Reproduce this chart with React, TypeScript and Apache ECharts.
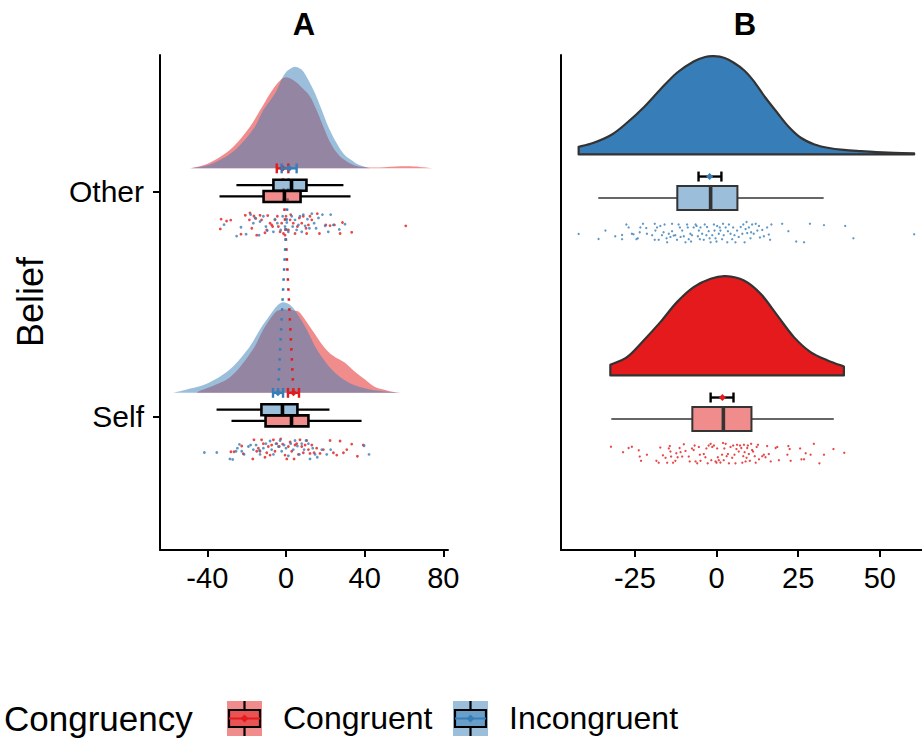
import React, { useEffect, useRef } from "react";
import * as echarts from "echarts";

const RED = "#E41A1C";
const BLUE = "#377EB8";
const RED_A = "rgba(228,26,28,0.5)";
const BLUE_A = "rgba(55,126,184,0.5)";
const FONT = "'Liberation Sans', Arial, Helvetica, sans-serif";

// Belief levels on the y axis (value 1 = Self, value 2 = Other)
const beliefLevels = ["Self", "Other"];
const congruencyLevels = ["Congruent", "Incongruent"];
const xTicksA = [-40, 0, 40, 80];
const xTicksB = [-25, 0, 25, 50];

// ---- densities: [x, relative density] ----
const densA_Other_Congruent = [[-48.8,0],[-42,0.03],[-36.1,0.083],[-30,0.16],[-25.1,0.25],[-18.3,0.417],[-13.2,0.58],[-8.1,0.75],[-4,0.86],[-0.5,0.91],[4,0.88],[8,0.81],[12.2,0.72],[15.6,0.58],[19,0.417],[22.7,0.25],[26.5,0.14],[30,0.08],[34,0.035],[38,0.015],[44,0.008],[50,0.012],[56,0.018],[62,0.02],[68,0.014],[75.7,0]];
const densA_Other_Incongruent = [[-47.9,0],[-40,0.03],[-33.6,0.083],[-28,0.15],[-22.5,0.25],[-15.8,0.417],[-11.5,0.583],[-5.6,0.75],[-2,0.9],[0.3,0.97],[2.5,1.0],[4.6,1.017],[7,1.0],[8.8,0.97],[11.5,0.88],[14.8,0.75],[18.2,0.583],[21.5,0.417],[25.8,0.25],[29.5,0.14],[33.4,0.08],[37,0.035],[42.7,0]];
const densA_Self_Congruent = [[-45.4,0],[-43.7,0.02],[-37,0.07],[-30.1,0.133],[-25.5,0.21],[-21.7,0.3],[-15.8,0.467],[-11.5,0.633],[-5.6,0.8],[-2,0.83],[1.5,0.833],[4.5,0.82],[7.1,0.8],[13.1,0.633],[19,0.467],[24,0.37],[30,0.3],[35,0.21],[40.2,0.133],[45,0.06],[49.5,0.033],[54,0.01],[58,0]];
const densA_Self_Incongruent = [[-57.3,0],[-50.5,0.033],[-43,0.07],[-36.1,0.133],[-30,0.21],[-25.1,0.3],[-18.3,0.467],[-13.2,0.633],[-7.3,0.8],[-4,0.88],[-1.4,0.907],[2,0.88],[5.4,0.8],[10.5,0.633],[14.7,0.467],[18.5,0.35],[22.4,0.25],[28,0.15],[34.2,0.08],[42,0.035],[49.5,0.015],[58,0]];
const densB_Incongruent = [[-42.2,0.077],[-37.6,0.117],[-32,0.2],[-27.4,0.317],[-22,0.48],[-17.2,0.65],[-12.1,0.817],[-7,0.93],[-3.5,0.975],[-0.8,0.983],[2.5,0.965],[5.3,0.917],[8.5,0.84],[11.4,0.733],[15,0.567],[18.6,0.417],[22,0.28],[25.8,0.167],[30,0.1],[34,0.067],[39,0.045],[44.2,0.033],[49,0.024],[54.4,0.017],[60.5,0.01]];
const densB_Congruent = [[-32.5,0.107],[-27.4,0.183],[-22.3,0.35],[-17.2,0.533],[-12.1,0.733],[-7,0.883],[-1.8,0.967],[2.8,0.993],[8.4,0.95],[13.5,0.817],[18.6,0.6],[23.7,0.383],[28.8,0.233],[34,0.15],[39,0.09]];

// ---- box stats: [lower whisker, q1, median, q3, upper whisker] ----
const boxA_Other_Congruent = [-33.8, -11.4, -0.8, 7.4, 32.8];
const boxA_Other_Incongruent = [-25.2, -6.4, 2.8, 10.4, 29.2];
const boxA_Self_Congruent = [-27.7, -10.4, 2.8, 11.4, 38.4];
const boxA_Self_Incongruent = [-35.3, -12.5, -1.8, 5.8, 22.1];
const boxB_Incongruent = [-36.2, -12.0, -1.8, 6.4, 32.8];
const boxB_Congruent = [-32.2, -7.4, 2.1, 10.7, 35.9];

// ---- mean with error bar: [low, mean, high] ----
const meanA_Other_Congruent = [-4.7, -1.8, 1.2];
const meanA_Other_Incongruent = [-2.2, 1.6, 5.4];
const meanA_Self_Congruent = [1.0, 3.8, 6.6];
const meanA_Self_Incongruent = [-6.6, -4.1, -1.5];
const meanB_Incongruent = [-5.5, -2.1, 1.5];
const meanB_Congruent = [-1.8, 1.8, 5.2];

// ---- raw observations: [value, jitter 0..1] ----
const ptsA_Other_Congruent = [[-33.4,0.67],[-33.0,0.26],[-30.2,0.34],[-28.1,0.30],[-22.9,0.89],[-20.7,0.10],[-18.6,0.29],[-18.3,0.0],[-17.4,0.64],[-16.3,0.13],[-15.4,0.23],[-14.9,0.93],[-13.2,0.10],[-12.4,0.29],[-10.7,0.83],[-9.8,0.71],[-9.3,0.11],[-8.1,0.43],[-7.3,0.5],[-6.8,0.57],[-5.6,0.29],[-4.4,0.14],[-3.9,0.57],[-3.0,0.79],[-2.2,0.43],[-1.3,0.86],[-0.5,0.93],[0.0,0.14],[1.2,0.71],[2.1,0.29],[2.4,0.07],[3.7,0.43],[4.6,0.86],[5.8,0.57],[6.8,0.21],[8.0,0.43],[8.8,0.14],[10.2,0.64],[10.5,0.86],[11.4,0.5],[12.2,0.14],[13.1,0.29],[15.9,0.03],[17.0,0.86],[20.2,0.5],[22.4,0.53],[24.6,0.5],[27.5,0.86],[28.7,0.4],[33.4,0.81],[60.9,0.54]];
const ptsA_Other_Incongruent = [[-31.5,0.49],[-25.1,0.97],[-22.9,0.6],[-20.3,0.89],[-18.0,0.07],[-16.6,0.43],[-15.7,0.21],[-13.7,0.93],[-13.2,0.36],[-11.5,0.14],[-10.2,0.57],[-9.5,0.74],[-6.4,0.79],[-5.6,0.26],[-4.4,0.43],[-2.7,0.71],[-1.7,0.14],[-0.5,0.57],[0.4,0.4],[1.2,0.79],[2.9,0.14],[3.4,0.57],[4.6,0.29],[5.4,0.71],[6.3,0.5],[7.1,0.14],[8.0,0.79],[8.8,0.07],[9.7,0.54],[10.9,0.26],[11.9,0.64],[13.1,0.03],[14.3,0.43],[15.3,0.64],[16.5,0.21],[18.5,0.07],[19.9,0.54],[21.5,0.79],[22.7,0.07],[24.1,0.5],[27.1,0.69],[30.0,0.47]];
const ptsA_Self_Congruent = [[-28.0,0.6],[-26.4,0.6],[-22.5,0.36],[-21.7,0.68],[-16.9,0.9],[-16.3,0.1],[-14.9,0.58],[-14.05,0.45],[-13.2,0.58],[-12.4,0.1],[-11.5,0.26],[-10.7,0.83],[-9.8,0.64],[-9.0,0.38],[-8.1,0.74],[-7.3,0.32],[-6.4,0.1],[-5.6,0.58],[-4.7,0.26],[-3.4,0.38],[-2.7,0.06],[-1.7,0.28],[-0.5,0.74],[0.4,0.9],[1.2,0.38],[2.1,0.19],[2.9,0.58],[4.1,0.9],[4.6,0.32],[5.4,0.26],[6.3,0.71],[7.1,0.1],[8.0,0.38],[8.8,0.64],[9.7,0.32],[10.5,0.13],[11.4,0.51],[12.2,0.67],[13.1,0.32],[14.3,0.64],[15.6,0.45],[17.3,0.67],[19.0,0.51],[22.4,0.13],[24.1,0.64],[25.8,0.74],[27.5,0.15],[29.2,0.64],[30.9,0.51],[33.4,0.28],[36.3,0.79],[39.3,0.32]];
const ptsA_Self_Incongruent = [[-41.5,0.63],[-35.2,0.63],[-28.5,0.9],[-27.1,0.92],[-25.4,0.58],[-24.7,0.45],[-23.7,0.29],[-22.5,0.58],[-21.3,0.71],[-19.1,0.38],[-18.0,0.32],[-16.6,0.51],[-15.2,0.32],[-13.5,0.54],[-13.2,0.71],[-11.5,0.45],[-10.2,0.26],[-8.1,0.15],[-7.3,0.51],[-6.4,0.71],[-5.1,0.26],[-3.9,0.38],[-3.0,0.13],[-2.2,0.58],[-1.0,0.32],[0.0,0.45],[1.2,0.77],[2.4,0.26],[3.7,0.51],[4.6,0.13],[5.8,0.36],[6.8,0.71],[8.0,0.26],[9.2,0.51],[10.2,0.13],[11.4,0.26],[12.2,0.9],[13.6,0.45],[14.8,0.71],[15.9,0.83],[18.2,0.51],[20.7,0.71],[22.7,0.51],[39.7,0.35],[42.2,0.71]];
const ptsB_Incongruent = [[-42.2,0.57],[-36.1,0.81],[-34.0,0.41],[-31.0,0.68],[-28.9,0.62],[-28.9,0.82],[-27.6,0.12],[-26.9,0.26],[-25.9,0.56],[-25.4,0.59],[-24.5,0.82],[-24.1,0.78],[-23.5,0.49],[-23.3,0.26],[-22.5,0.09],[-21.5,0.29],[-21.3,0.56],[-19.7,0.63],[-18.9,0.09],[-18.7,0.41],[-18.9,0.85],[-18.2,0.26],[-17.7,0.85],[-17.2,0.19],[-16.7,0.63],[-16.2,0.49],[-15.9,0.12],[-15.3,0.78],[-15.1,0.97],[-14.6,0.56],[-14.1,0.71],[-13.6,0.09],[-13.6,0.44],[-13.1,0.65],[-12.6,0.63],[-12.1,0.85],[-11.6,0.12],[-11.2,0.26],[-11.0,0.71],[-10.5,0.41],[-10.0,0.68],[-9.5,0.97],[-9.0,0.12],[-8.8,0.26],[-8.5,0.82],[-8.0,0.56],[-7.8,0.93],[-7.5,0.63],[-7.0,0.26],[-6.4,0.12],[-6.1,0.19],[-5.7,0.68],[-5.4,0.41],[-5.1,0.82],[-4.9,0.26],[-4.4,0.56],[-3.9,0.85],[-3.6,0.12],[-3.1,0.63],[-2.9,0.24],[-2.4,0.44],[-2.1,0.78],[-1.8,0.97],[-1.3,0.63],[-0.8,0.12],[-0.6,0.41],[-0.3,0.78],[0.0,0.93],[0.2,0.19],[0.7,0.56],[1.0,0.26],[1.2,0.41],[1.7,0.82],[2.0,0.09],[2.2,0.63],[2.8,0.26],[3.3,0.97],[3.5,0.44],[3.8,0.12],[4.3,0.56],[4.8,0.82],[5.1,0.26],[5.5,0.63],[5.8,0.97],[6.3,0.41],[6.8,0.71],[7.4,0.24],[7.9,0.56],[8.2,0.12],[8.6,0.97],[8.9,0.34],[9.2,0.0],[9.4,0.53],[9.9,0.26],[10.4,0.78],[10.6,0.49],[10.9,0.12],[11.4,0.56],[12.0,0.09],[12.5,0.41],[13.0,0.19],[13.3,0.74],[14.0,0.38],[14.5,0.68],[15.5,0.26],[16.0,0.6],[16.4,0.85],[16.8,0.12],[20.1,0.09],[22.0,0.44],[24.4,0.93],[26.8,0.97],[28.6,0.09],[32.9,0.15],[39.4,0.19],[41.9,0.78],[60.5,0.59]];
const ptsB_Congruent = [[-32.3,0.18],[-28.6,0.44],[-26.9,0.24],[-25.9,0.18],[-23.8,0.35],[-23.5,0.65],[-23.1,0.85],[-21.3,0.56],[-18.4,0.85],[-17.7,0.94],[-17.2,0.22],[-16.4,0.59],[-15.6,0.71],[-15.1,0.94],[-14.6,0.26],[-14.3,0.15],[-14.1,0.41],[-13.9,0.65],[-13.3,0.94],[-12.6,0.85],[-12.3,0.49],[-11.9,0.68],[-11.3,0.24],[-11.0,0.44],[-10.5,0.65],[-10.0,0.06],[-9.5,0.38],[-8.5,0.65],[-8.2,0.88],[-7.5,0.26],[-7.0,0.34],[-6.7,0.12],[-6.4,0.88],[-5.9,0.97],[-5.4,0.19],[-5.1,0.56],[-4.9,0.85],[-3.9,0.53],[-3.4,0.68],[-3.1,0.26],[-2.7,0.97],[-2.4,0.12],[-1.8,0.04],[-1.6,0.82],[-1.3,0.19],[-0.8,0.12],[-0.3,0.88],[0.0,0.94],[0.2,0.26],[0.4,0.68],[0.7,0.82],[1.2,0.93],[1.7,0.56],[2.0,0.0],[2.2,0.82],[2.4,0.26],[2.8,0.04],[3.1,0.63],[3.5,0.53],[3.8,0.97],[4.3,0.19],[4.8,0.71],[5.1,0.12],[5.5,0.56],[5.8,0.97],[6.1,0.29],[6.3,0.09],[6.8,0.41],[7.2,0.12],[7.6,0.24],[7.9,0.94],[8.2,0.63],[8.4,0.09],[8.6,0.44],[8.9,0.88],[9.2,0.71],[9.4,0.24],[9.6,0.12],[9.9,0.53],[10.2,0.85],[10.6,0.04],[10.9,0.34],[11.2,0.41],[11.7,0.63],[12.0,0.94],[12.3,0.19],[12.7,0.09],[13.0,0.78],[14.0,0.63],[14.5,0.56],[15.0,0.68],[15.5,0.15],[16.0,0.53],[16.6,0.88],[18.1,0.24],[18.6,0.19],[19.1,0.82],[21.7,0.56],[22.0,0.15],[22.4,0.29],[22.7,0.85],[25.6,0.26],[26.0,0.78],[26.8,0.78],[27.3,0.49],[28.8,0.56],[29.8,0.04],[31.5,0.97],[32.9,0.56],[35.8,0.29],[39.1,0.47]];

// ---- layout constants (y-axis units relative to each Belief level) ----
const A = { dens: 0.105, dScale: 0.4454, boxUp: 0.03, boxDown: -0.02, boxH: 0.0245, err: 0.105, capH: 0.022, j0: 0.0935, j1: 0.2 };
const B = { dens: 0.197, dScale: 0.4525, boxH: 0.0543, err: 0.097, capH: 0.0226, j0: 0.1086, j1: 0.2036 };

// smooth outline through the read density points (Catmull-Rom drawn as cubic Beziers)
function smoothPath(base0: number[], curve: number[][], base1: number[]) {
  const f = (v: number) => v.toFixed(2);
  let d = `M${f(base0[0])},${f(base0[1])} L${f(curve[0][0])},${f(curve[0][1])}`;
  const n = curve.length;
  for (let i = 0; i < n - 1; i++) {
    const p0 = curve[Math.max(i - 1, 0)];
    const p1 = curve[i];
    const p2 = curve[i + 1];
    const p3 = curve[Math.min(i + 2, n - 1)];
    const c1x = p1[0] + (p2[0] - p0[0]) / 6;
    const c1y = p1[1] + (p2[1] - p0[1]) / 6;
    const c2x = p2[0] - (p3[0] - p1[0]) / 6;
    const c2y = p2[1] - (p3[1] - p1[1]) / 6;
    d += ` C${f(c1x)},${f(c1y)} ${f(c2x)},${f(c2y)} ${f(p2[0])},${f(p2[1])}`;
  }
  d += ` L${f(base1[0])},${f(base1[1])} Z`;
  return d;
}

function densitySeries(axis: number, pts: number[][], base: number, scale: number, style: any, z: number) {
  return {
    type: "custom", xAxisIndex: axis, yAxisIndex: axis, silent: true, clip: false, z,
    data: [[pts[0][0], base]],
    renderItem: (_p: any, api: any) => {
      const curve = pts.map(([x, d]) => api.coord([x, base + d * scale]));
      const b0 = api.coord([pts[0][0], base]);
      const b1 = api.coord([pts[pts.length - 1][0], base]);
      return { type: "path", shape: { pathData: smoothPath(b0, curve, b1) }, style };
    },
  };
}

function boxSeries(axis: number, y: number, s: number[], halfH: number, fill: string, stroke: string, wBox: number, wWhisk: number, wMed: number, z: number) {
  return {
    type: "custom", xAxisIndex: axis, yAxisIndex: axis, silent: true, clip: false, z,
    encode: { x: [1, 2, 3, 4, 5], y: 0 },
    data: [[y, ...s]],
    renderItem: (_p: any, api: any) => {
      const yy = api.value(0);
      const [xLo, yc] = api.coord([api.value(1), yy]);
      const xQ1 = api.coord([api.value(2), yy])[0];
      const xMed = api.coord([api.value(3), yy])[0];
      const xQ3 = api.coord([api.value(4), yy])[0];
      const xHi = api.coord([api.value(5), yy])[0];
      const h = api.size([0, halfH])[1];
      return {
        type: "group",
        children: [
          { type: "line", shape: { x1: xLo, y1: yc, x2: xQ1, y2: yc }, style: { stroke, lineWidth: wWhisk } },
          { type: "line", shape: { x1: xQ3, y1: yc, x2: xHi, y2: yc }, style: { stroke, lineWidth: wWhisk } },
          { type: "rect", shape: { x: xQ1, y: yc - h, width: xQ3 - xQ1, height: 2 * h }, style: { fill, stroke, lineWidth: wBox } },
          { type: "line", shape: { x1: xMed, y1: yc - h, x2: xMed, y2: yc + h }, style: { stroke, lineWidth: wMed } },
        ],
      };
    },
  };
}

function errSeries(axis: number, y: number, m: number[], capH: number, lineColor: string, pointColor: string, ds: number, z: number) {
  return {
    type: "custom", xAxisIndex: axis, yAxisIndex: axis, silent: true, clip: false, z,
    encode: { x: [1, 2, 3], y: 0 },
    data: [[y, ...m]],
    renderItem: (_p: any, api: any) => {
      const yy = api.value(0);
      const [xL, yc] = api.coord([api.value(1), yy]);
      const xM = api.coord([api.value(2), yy])[0];
      const xH = api.coord([api.value(3), yy])[0];
      const h = api.size([0, capH])[1];
      return {
        type: "group",
        children: [
          { type: "line", shape: { x1: xL, y1: yc, x2: xH, y2: yc }, style: { stroke: lineColor, lineWidth: 2.4 } },
          { type: "line", shape: { x1: xL, y1: yc - h, x2: xL, y2: yc + h }, style: { stroke: lineColor, lineWidth: 2.4 } },
          { type: "line", shape: { x1: xH, y1: yc - h, x2: xH, y2: yc + h }, style: { stroke: lineColor, lineWidth: 2.4 } },
          { type: "polygon", shape: { points: [[xM, yc - ds], [xM + ds, yc], [xM, yc + ds], [xM - ds, yc]] }, style: { fill: pointColor } },
        ],
      };
    },
  };
}

function pointSeries(axis: number, cat: number, pts: number[][], j0: number, j1: number, color: string, size: number) {
  return {
    type: "scatter", xAxisIndex: axis, yAxisIndex: axis, silent: true, z: 3,
    symbol: "circle", symbolSize: size,
    itemStyle: { color },
    data: pts.map(([x, j]) => [x, cat - (j0 + j * (j1 - j0))]),
  };
}

function legendKey(x: number, y: number, col: string) {
  const s = 35;
  const cx = x + s / 2, cy = y + s / 2;
  return [
    { type: "rect", shape: { x, y, width: s, height: s }, style: { fill: col } },
    { type: "line", shape: { x1: cx, y1: y, x2: cx, y2: y + 9 }, style: { stroke: "#000", lineWidth: 2.2 } },
    { type: "line", shape: { x1: cx, y1: y + s - 9, x2: cx, y2: y + s }, style: { stroke: "#000", lineWidth: 2.2 } },
    { type: "rect", shape: { x: x + 2, y: y + 9, width: s - 4, height: s - 18 }, style: { fill: col, stroke: "#000", lineWidth: 2.2 } },
    { type: "line", shape: { x1: x + 2, y1: cy, x2: x + s - 2, y2: cy }, style: { stroke: col === RED_A ? RED : BLUE, lineWidth: 2 } },
    { type: "polygon", shape: { points: [[cx, cy - 4], [cx + 4, cy], [cx, cy + 4], [cx - 4, cy]] }, style: { fill: col === RED_A ? RED : BLUE } },
  ];
}

export default function App() {
  const ref = useRef<HTMLDivElement>(null);
  useEffect(() => {
    if (!ref.current) return;
    const chart = echarts.init(ref.current, undefined, { renderer: "svg" });
    const OTHER = 2, SELF = 1;
    const xAxisCommon = (min: number, max: number, ticks: number[], grid: number) => ({
      gridIndex: grid, type: "value", min, max,
      axisLine: { show: true, onZero: false, lineStyle: { color: "#000", width: 2 } },
      axisTick: { show: true, length: 7, customValues: ticks, lineStyle: { color: "#000", width: 2 } },
      axisLabel: { customValues: ticks, color: "#000", fontSize: 29, margin: 13, fontFamily: FONT },
      splitLine: { show: false },
    });
    const option: any = {
      animation: false,
      backgroundColor: "#fff",
      textStyle: { fontFamily: FONT },
      grid: [
        { left: 160, top: 55, width: 288, height: 495 },
        { left: 561, top: 55, width: 361, height: 495 },
      ],
      xAxis: [
        xAxisCommon(-64.06, 82.36, xTicksA, 0),
        xAxisCommon(-47.6, 62.9, xTicksB, 1),
      ],
      yAxis: [
        {
          gridIndex: 0, type: "value", min: 0.405, max: 2.61,
          axisLine: { show: true, onZero: false, lineStyle: { color: "#000", width: 2 } },
          axisTick: { show: true, length: 7, customValues: [1, 2], lineStyle: { color: "#000", width: 2 } },
          axisLabel: { customValues: [1, 2], color: "#000", fontSize: 30, margin: 16, fontFamily: FONT, formatter: (v: number) => beliefLevels[Math.round(v) - 1] },
          splitLine: { show: false },
        },
        {
          gridIndex: 1, type: "value", min: 0.407, max: 2.647,
          axisLine: { show: true, onZero: false, lineStyle: { color: "#000", width: 2 } },
          axisTick: { show: false }, axisLabel: { show: false }, splitLine: { show: false },
        },
      ],
      series: [
        // Panel A densities
        densitySeries(0, densA_Other_Congruent, OTHER + A.dens, A.dScale, { fill: RED_A }, 1),
        densitySeries(0, densA_Other_Incongruent, OTHER + A.dens, A.dScale, { fill: BLUE_A }, 1),
        densitySeries(0, densA_Self_Congruent, SELF + A.dens, A.dScale, { fill: RED_A }, 1),
        densitySeries(0, densA_Self_Incongruent, SELF + A.dens, A.dScale, { fill: BLUE_A }, 1),
        // dotted lines joining means
        {
          type: "line", xAxisIndex: 0, yAxisIndex: 0, silent: true, symbol: "none", z: 2,
          data: [[meanA_Other_Congruent[1], OTHER + A.err], [meanA_Self_Congruent[1], SELF + A.err]],
          lineStyle: { color: RED, width: 2.5, type: [2.5, 7.5] },
        },
        {
          type: "line", xAxisIndex: 0, yAxisIndex: 0, silent: true, symbol: "none", z: 2,
          data: [[meanA_Other_Incongruent[1], OTHER + A.err], [meanA_Self_Incongruent[1], SELF + A.err]],
          lineStyle: { color: BLUE, width: 2.5, type: [2.5, 7.5] },
        },
        // Panel A boxes
        boxSeries(0, OTHER + A.boxUp, boxA_Other_Incongruent, A.boxH, BLUE_A, "#000", 2.6, 2.2, 3.6, 4),
        boxSeries(0, OTHER + A.boxDown, boxA_Other_Congruent, A.boxH, RED_A, "#000", 2.6, 2.2, 3.6, 4),
        boxSeries(0, SELF + A.boxUp, boxA_Self_Incongruent, A.boxH, BLUE_A, "#000", 2.6, 2.2, 3.6, 4),
        boxSeries(0, SELF + A.boxDown, boxA_Self_Congruent, A.boxH, RED_A, "#000", 2.6, 2.2, 3.6, 4),
        // Panel A means
        errSeries(0, OTHER + A.err, meanA_Other_Congruent, A.capH, RED, RED, 3.5, 5),
        errSeries(0, OTHER + A.err, meanA_Other_Incongruent, A.capH, BLUE, BLUE, 3.5, 5),
        errSeries(0, SELF + A.err, meanA_Self_Congruent, A.capH, RED, RED, 3.5, 5),
        errSeries(0, SELF + A.err, meanA_Self_Incongruent, A.capH, BLUE, BLUE, 3.5, 5),
        // Panel A points
        pointSeries(0, OTHER, ptsA_Other_Congruent, A.j0, A.j1, RED, 2.8),
        pointSeries(0, OTHER, ptsA_Other_Incongruent, A.j0, A.j1, BLUE, 2.8),
        pointSeries(0, SELF, ptsA_Self_Congruent, A.j0, A.j1, RED, 2.8),
        pointSeries(0, SELF, ptsA_Self_Incongruent, A.j0, A.j1, BLUE, 2.8),
        // Panel B
        densitySeries(1, densB_Incongruent, OTHER + B.dens, B.dScale, { fill: BLUE, stroke: "#333", lineWidth: 2.2, lineJoin: "round" }, 1),
        densitySeries(1, densB_Congruent, SELF + B.dens, B.dScale, { fill: RED, stroke: "#333", lineWidth: 2.2, lineJoin: "round" }, 1),
        boxSeries(1, OTHER, boxB_Incongruent, B.boxH, BLUE_A, "#333", 2, 1.6, 3.6, 4),
        boxSeries(1, SELF, boxB_Congruent, B.boxH, RED_A, "#333", 2, 1.6, 3.6, 4),
        errSeries(1, OTHER + B.err, meanB_Incongruent, B.capH, "#000", BLUE, 3.5, 5),
        errSeries(1, SELF + B.err, meanB_Congruent, B.capH, "#000", RED, 3.5, 5),
        pointSeries(1, OTHER, ptsB_Incongruent, B.j0, B.j1, BLUE, 2.3),
        pointSeries(1, SELF, ptsB_Congruent, B.j0, B.j1, RED, 2.3),
      ],
      graphic: [
        { type: "text", x: 304, y: 24, style: { text: "A", fontSize: 31, fontWeight: "bold", fill: "#000", align: "center", verticalAlign: "middle", fontFamily: FONT } },
        { type: "text", x: 745, y: 24, style: { text: "B", fontSize: 31, fontWeight: "bold", fill: "#000", align: "center", verticalAlign: "middle", fontFamily: FONT } },
        { type: "text", x: 30, y: 302, rotation: Math.PI / 2, style: { text: "Belief", fontSize: 36, fill: "#000", align: "center", verticalAlign: "middle", fontFamily: FONT } },
        { type: "text", x: 4, y: 718, style: { text: "Congruency", fontSize: 35, fill: "#000", align: "left", verticalAlign: "middle", fontFamily: FONT } },
        ...legendKey(227, 701, RED_A),
        { type: "text", x: 283, y: 718, style: { text: congruencyLevels[0], fontSize: 32, fill: "#000", align: "left", verticalAlign: "middle", fontFamily: FONT } },
        ...legendKey(453, 701, BLUE_A),
        { type: "text", x: 509, y: 718, style: { text: congruencyLevels[1], fontSize: 32, fill: "#000", align: "left", verticalAlign: "middle", fontFamily: FONT } },
      ],
    };
    chart.setOption(option);
    return () => chart.dispose();
  }, []);
  return <div ref={ref} style={{ position: "fixed", left: 0, top: 0, width: 922, height: 738, background: "#fff" }} />;
}
